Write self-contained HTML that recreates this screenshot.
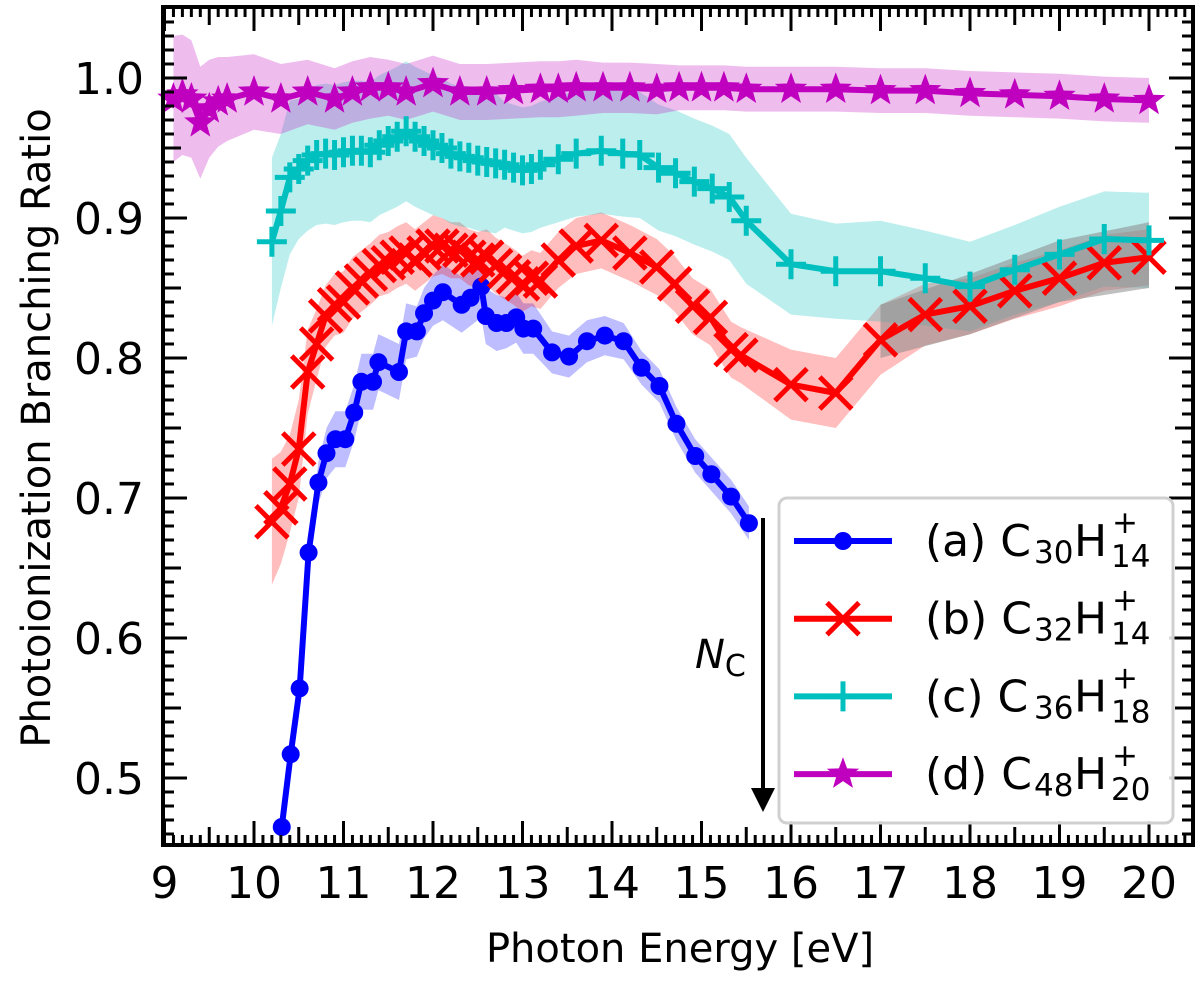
<!DOCTYPE html>
<html><head><meta charset="utf-8"><style>
html,body{margin:0;padding:0;background:#fff;}
svg{display:block;font-family:"DejaVu Sans","Liberation Sans",sans-serif;}
</style></head><body>
<svg id="chart" width="1200" height="982" viewBox="0 0 1200 982" xmlns="http://www.w3.org/2000/svg">
<g id="bands"></g>
<g id="series"></g>
<g id="axes"></g>
<g id="annot"></g>
<g id="legend"></g>
</svg>
<script>
// ---- data ----
const xTicks = [9,10,11,12,13,14,15,16,17,18,19,20];
const yTicks = [0.5,0.6,0.7,0.8,0.9,1.0];
const yTickLabels = ["0.5","0.6","0.7","0.8","0.9","1.0"];

const aX = [10.31,10.41,10.51,10.61,10.72,10.81,10.91,11.02,11.12,11.2,11.33,11.39,11.62,11.7,11.82,11.9,12.0,12.11,12.32,12.42,12.54,12.59,12.71,12.82,12.93,13.01,13.12,13.33,13.52,13.72,13.92,14.13,14.33,14.53,14.72,14.93,15.11,15.33,15.53];
const aY = [0.465,0.517,0.564,0.661,0.711,0.732,0.742,0.742,0.761,0.783,0.783,0.797,0.790,0.819,0.819,0.832,0.841,0.847,0.838,0.843,0.851,0.830,0.825,0.825,0.829,0.821,0.821,0.804,0.801,0.812,0.816,0.812,0.793,0.780,0.753,0.730,0.717,0.701,0.682];
const aErr = [0.01,0.01,0.01,0.012,0.015,0.018,0.02,0.02,0.02,0.02,0.02,0.02,0.02,0.02,0.018,0.018,0.018,0.02,0.02,0.02,0.022,0.02,0.02,0.018,0.018,0.018,0.018,0.015,0.015,0.015,0.014,0.013,0.012,0.012,0.012,0.012,0.012,0.012,0.012];

const bX = [10.2,10.3,10.4,10.5,10.6,10.7,10.8,10.9,11.0,11.1,11.2,11.3,11.4,11.5,11.6,11.7,11.8,11.9,12.0,12.1,12.2,12.3,12.4,12.5,12.6,12.7,12.8,12.9,13.0,13.1,13.2,13.4,13.6,13.88,14.2,14.5,14.7,14.9,15.1,15.33,15.44,16.0,16.5,17.0,17.5,18.0,18.5,19.0,19.5,20.0];
const bY = [0.683,0.693,0.71,0.735,0.79,0.81,0.83,0.838,0.84,0.85,0.855,0.86,0.866,0.868,0.872,0.875,0.87,0.875,0.88,0.88,0.877,0.877,0.872,0.87,0.872,0.866,0.862,0.858,0.853,0.857,0.855,0.87,0.88,0.884,0.875,0.865,0.853,0.837,0.829,0.806,0.802,0.781,0.775,0.813,0.831,0.837,0.848,0.857,0.868,0.872];
const bErr = [0.045,0.04,0.035,0.035,0.03,0.025,0.022,0.022,0.022,0.022,0.022,0.022,0.022,0.022,0.022,0.022,0.022,0.022,0.022,0.02,0.02,0.02,0.02,0.02,0.02,0.02,0.02,0.02,0.02,0.02,0.02,0.02,0.02,0.02,0.02,0.02,0.02,0.02,0.02,0.02,0.02,0.025,0.025,0.025,0.022,0.02,0.02,0.02,0.02,0.02];

const cX = [10.2,10.3,10.4,10.5,10.6,10.7,10.8,10.9,11.0,11.1,11.2,11.3,11.4,11.5,11.6,11.7,11.8,11.9,12.0,12.1,12.2,12.3,12.4,12.5,12.6,12.7,12.8,12.9,13.0,13.1,13.2,13.4,13.6,13.88,14.12,14.31,14.52,14.71,14.92,15.12,15.31,15.5,16.0,16.5,17.0,17.5,18.0,18.5,19.0,19.5,20.0];
const cY = [0.883,0.905,0.929,0.935,0.941,0.945,0.946,0.945,0.947,0.948,0.948,0.947,0.952,0.955,0.958,0.962,0.958,0.955,0.952,0.95,0.946,0.944,0.943,0.941,0.94,0.939,0.938,0.936,0.934,0.935,0.938,0.942,0.946,0.948,0.946,0.945,0.936,0.932,0.926,0.921,0.915,0.898,0.867,0.862,0.862,0.857,0.851,0.863,0.874,0.885,0.884];
const cErr = [0.06,0.055,0.055,0.05,0.05,0.05,0.05,0.05,0.05,0.05,0.05,0.05,0.05,0.05,0.05,0.05,0.05,0.05,0.05,0.05,0.05,0.05,0.05,0.05,0.05,0.05,0.045,0.045,0.045,0.045,0.045,0.045,0.045,0.045,0.045,0.045,0.045,0.045,0.045,0.045,0.045,0.045,0.036,0.034,0.036,0.034,0.032,0.032,0.034,0.034,0.034];

const dX = [9.1,9.2,9.3,9.4,9.5,9.6,9.7,10.0,10.3,10.6,10.9,11.1,11.3,11.5,11.7,12.0,12.3,12.6,12.9,13.2,13.4,13.6,13.9,14.2,14.5,14.75,15.0,15.25,15.5,16.0,16.5,17.0,17.5,18.0,18.5,19.0,19.5,20.0];
const dY = [0.985,0.988,0.985,0.968,0.978,0.983,0.985,0.99,0.985,0.99,0.985,0.99,0.993,0.993,0.99,0.996,0.99,0.99,0.991,0.992,0.992,0.993,0.993,0.993,0.992,0.993,0.993,0.993,0.992,0.992,0.992,0.991,0.991,0.989,0.988,0.987,0.985,0.984];
const dErr = [0.045,0.043,0.042,0.04,0.035,0.032,0.03,0.027,0.025,0.023,0.022,0.022,0.022,0.02,0.02,0.02,0.02,0.02,0.02,0.02,0.02,0.02,0.018,0.018,0.018,0.016,0.016,0.016,0.016,0.016,0.016,0.016,0.016,0.016,0.016,0.016,0.016,0.016];

// gray overlap region
const gX = [17.0,18.0,19.0,20.0];
const gHi = [0.838,0.86,0.884,0.897];
const gLo = [0.80,0.817,0.84,0.85];

// ---- axes mapping ----
const L=163,R=1193,T=7,B=845;
function X(v){return 164.5+(v-9)*89.5;}
function Y(v){return 78+(1-v)*1400;}
const NS="http://www.w3.org/2000/svg";
function mk(tag,attrs,parent){const e=document.createElementNS(NS,tag);for(const k in attrs)e.setAttribute(k,attrs[k]);parent.appendChild(e);return e;}

const bands=document.getElementById('bands');
const series=document.getElementById('series');
const axes=document.getElementById('axes');

function band(xs,ys,errs,color,name){
  let pts=[];
  for(let i=0;i<xs.length;i++)pts.push(X(xs[i])+','+Y(ys[i]+errs[i]));
  for(let i=xs.length-1;i>=0;i--)pts.push(X(xs[i])+','+Y(ys[i]-errs[i]));
  const p=mk('polygon',{points:pts.join(' '),fill:color,'fill-opacity':0.26,stroke:'none'},bands);
  
  
}
band(aX,aY,aErr,'#0000ff','band-a');
band(bX,bY,bErr,'#ff0000','band-b');
band(cX,cY,cErr,'#00bfbf','band-c');
band(dX,dY,dErr,'#bf00bf','band-d');
{
  let pts=[];
  for(let i=0;i<gX.length;i++)pts.push(X(gX[i])+','+Y(gHi[i]));
  for(let i=gX.length-1;i>=0;i--)pts.push(X(gX[i])+','+Y(gLo[i]));
  const p=mk('polygon',{points:pts.join(' '),fill:'#8a8a8a','fill-opacity':0.55},bands);
  
  
}

function marker(type,cx,cy,color,g){
  let e;
  if(type==='o'){e=mk('circle',{cx:cx,cy:cy,r:9,fill:color},g);}
  else if(type==='x'){e=mk('path',{d:`M${cx-16},${cy-16}L${cx+16},${cy+16}M${cx-16},${cy+16}L${cx+16},${cy-16}`,stroke:color,'stroke-width':5,fill:'none'},g);}
  else if(type==='+'){e=mk('path',{d:`M${cx-15},${cy}L${cx+15},${cy}M${cx},${cy-15}L${cx},${cy+15}`,stroke:color,'stroke-width':5,fill:'none'},g);}
  else {let p=[];for(let k=0;k<10;k++){const r=k%2?7:17;const a=-Math.PI/2+k*Math.PI/5;p.push((cx+r*Math.cos(a)).toFixed(1)+','+(cy+r*Math.sin(a)).toFixed(1));}
    e=mk('polygon',{points:p.join(' '),fill:color},g);}
  return e;
}
function line(xs,ys,color,type,name){
  const g=mk('g',{},series);
  
  
  const pts=xs.map((x,i)=>X(x)+','+Y(ys[i])).join(' ');
  mk('polyline',{points:pts,fill:'none',stroke:color,'stroke-width':6,'stroke-linejoin':'round'},g);
  for(let i=0;i<xs.length;i++){
    const m=marker(type,X(xs[i]),Y(ys[i]),color,g);
    
    
  }
}
line(aX,aY,'#0000ff','o','series-a-c30h14');
line(bX,bY,'#ff0000','x','series-b-c32h14');
line(cX,cY,'#00bfbf','+','series-c-c36h18');
line(dX,dY,'#bf00bf','*','series-d-c48h20');

// frame
const fr=mk('rect',{x:L,y:T,width:R-L,height:B-T,fill:'none',stroke:'#000','stroke-width':4},axes);


// x ticks
for(let i=0;i<=115;i++){
  const v=9+i*0.1; const x=X(v); if(x>R-2)break;
  const len=(i%10===0)?24:(i%5===0?18:10);
  mk('line',{x1:x,y1:B,x2:x,y2:B-len,stroke:'#000','stroke-width':3},axes);
  mk('line',{x1:x,y1:T,x2:x,y2:T+len,stroke:'#000','stroke-width':3},axes);
}
xTicks.forEach(v=>{
  const t=mk('text',{x:X(v),y:898,'font-size':44,'text-anchor':'middle',fill:'#000'},axes);
  t.textContent=String(v);
  
  
});
// y ticks
for(let i=45;i<=105;i++){
  const v=i/100; const y=Y(v); if(y<T+2||y>B-2)continue;
  const len=(i%10===0)?24:(i%5===0?18:11);
  mk('line',{x1:L,y1:y,x2:L+len,y2:y,stroke:'#000','stroke-width':3},axes);
  mk('line',{x1:R,y1:y,x2:R-len,y2:y,stroke:'#000','stroke-width':3},axes);
}
yTicks.forEach((v,i)=>{
  const t=mk('text',{x:144,y:Y(v)+16,'font-size':44,'text-anchor':'end',fill:'#000'},axes);
  t.textContent=yTickLabels[i];
  
  
});
const xt=mk('text',{x:680,y:962,'font-size':40,'text-anchor':'middle',fill:'#000'},axes);
xt.textContent='Photon Energy [eV]';


const yt=mk('text',{x:0,y:0,'font-size':40,'text-anchor':'middle',fill:'#000',transform:'translate(50,428) rotate(-90)'},axes);
yt.textContent='Photoionization Branching Ratio';



// annotation arrow
const an=document.getElementById('annot');
mk('line',{x1:763,y1:518,x2:763,y2:790,stroke:'#000','stroke-width':4},an);
mk('polygon',{points:'751,788 775,788 763,812',fill:'#000'},an);
const nc=mk('text',{x:695,y:668,'font-size':40,fill:'#000'},an);
nc.innerHTML='<tspan font-style="italic">N</tspan><tspan font-size="30" dy="8">C</tspan>';



// legend
const lg=document.getElementById('legend');
mk('rect',{x:779,y:498,width:394,height:325,rx:8,fill:'#fff','fill-opacity':0.85,stroke:'#d0d0d0','stroke-width':3},lg);
const ent=[['(a) C','30','14','#0000ff','o'],['(b) C','32','14','#ff0000','x'],['(c) C','36','18','#00bfbf','+'],['(d) C','48','20','#bf00bf','*']];
ent.forEach((e,i)=>{
  const y=541+i*77.7;
  const g=mk('g',{},lg);
  
  
  mk('line',{x1:794,y1:y,x2:892,y2:y,stroke:e[3],'stroke-width':6},g);
  marker(e[4],843,y,e[3],g);
  const t=mk('text',{x:925,y:y+15,'font-size':44,fill:'#000'},g);
  t.textContent=e[0];
  const s=mk('text',{x:1034,y:y+22,'font-size':31,fill:'#000'},g);s.textContent=e[1];
  const h=mk('text',{x:1074,y:y+15,'font-size':44,fill:'#000'},g);h.textContent='H';
  const p=mk('text',{x:1112,y:y-8,'font-size':31,fill:'#000'},g);p.textContent='+';
  const q=mk('text',{x:1111,y:y+26,'font-size':31,fill:'#000'},g);q.textContent=e[2];
});
</script>
</body></html>
